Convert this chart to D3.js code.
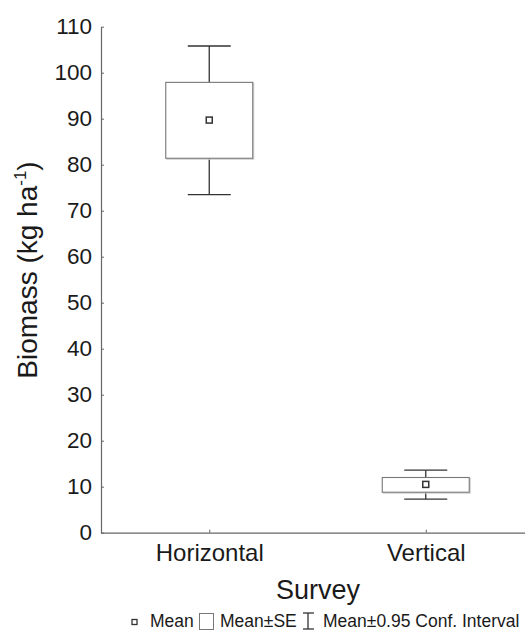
<!DOCTYPE html>
<html><head><meta charset="utf-8">
<script src="https://cdn.jsdelivr.net/npm/d3@7"></script>
<style>body{margin:0;background:#fff}svg{display:block;font-family:"Liberation Sans",Arial,sans-serif}</style>
</head><body>
<svg id="c" width="525" height="632"></svg>
<script>
const categories = ["Horizontal", "Vertical"];
const means = [89.7, 10.5];
const seLow = [81.4, 8.8];
const seHigh = [97.9, 12.0];
const ciLow = [73.5, 7.3];
const ciHigh = [105.8, 13.6];
const yTicks = [0,10,20,30,40,50,60,70,80,90,100,110];

const svg = d3.select("#c");
const y = d3.scaleLinear().domain([0,110]).range([532.7,26.7]);
const x = d3.scalePoint().domain(categories).range([101,534]).padding(0.5);
const txt = "#1a1a1a";

// y axis
const ya = svg.append("g").attr("transform","translate(101,0)")
  .call(d3.axisLeft(y).tickValues(yTicks).tickSizeInner(-3).tickSizeOuter(0).tickPadding(9));
ya.select(".domain").attr("stroke","#666").attr("stroke-width",1.2);
ya.selectAll(".tick line").attr("stroke","#666");
ya.selectAll(".tick text").attr("font-size",22.5).attr("fill",txt).attr("font-family","Liberation Sans, Arial, sans-serif");

// x axis
const xa = svg.append("g").attr("transform","translate(0,532.7)")
  .call(d3.axisBottom(x).tickSizeInner(-3).tickSizeOuter(0).tickPadding(11));
xa.select(".domain").attr("stroke","#666").attr("stroke-width",1.2);
xa.selectAll(".tick line").attr("stroke","#666");
xa.selectAll(".tick text").attr("font-size",24).attr("fill",txt).attr("font-family","Liberation Sans, Arial, sans-serif");

// axis titles
svg.append("text").attr("x",318).attr("y",599).attr("text-anchor","middle")
  .attr("font-size",27).attr("fill",txt).text("Survey");
const yl = svg.append("text").attr("transform","translate(37,270) rotate(-90)")
  .attr("text-anchor","middle").attr("font-size",28).attr("fill",txt);
yl.append("tspan").text("Biomass (kg ha");
yl.append("tspan").attr("dy",-11).attr("font-size",17).text("-1");
yl.append("tspan").attr("dy",11).text(")");

// boxes
const boxW = 87, capW = 43;
const g = svg.append("g");
categories.forEach((c,i)=>{
  const cx = x(c);
  g.append("line").attr("x1",cx).attr("x2",cx).attr("y1",y(ciHigh[i])).attr("y2",y(seHigh[i])).attr("stroke","#333").attr("stroke-width",1.3);
  g.append("line").attr("x1",cx).attr("x2",cx).attr("y1",y(seLow[i])).attr("y2",y(ciLow[i])).attr("stroke","#333").attr("stroke-width",1.3);
  g.append("line").attr("x1",cx-capW/2).attr("x2",cx+capW/2).attr("y1",y(ciHigh[i])).attr("y2",y(ciHigh[i])).attr("stroke","#333").attr("stroke-width",1.3);
  g.append("line").attr("x1",cx-capW/2).attr("x2",cx+capW/2).attr("y1",y(ciLow[i])).attr("y2",y(ciLow[i])).attr("stroke","#333").attr("stroke-width",1.3);
  g.append("rect").attr("x",cx-boxW/2+1).attr("y",y(seHigh[i])+1).attr("width",boxW).attr("height",y(seLow[i])-y(seHigh[i]))
    .attr("fill","none").attr("stroke","#ccc").attr("stroke-width",1);
  g.append("rect").attr("x",cx-boxW/2).attr("y",y(seHigh[i])).attr("width",boxW).attr("height",y(seLow[i])-y(seHigh[i]))
    .attr("fill","#fff").attr("stroke","#777").attr("stroke-width",1.1);
  g.append("rect").attr("x",cx-3).attr("y",y(means[i])-3).attr("width",6).attr("height",6)
    .attr("fill","#fff").attr("stroke","#333").attr("stroke-width",1.5);
});

// legend
const lg = svg.append("g").attr("font-size",17.5).attr("fill",txt);
lg.append("rect").attr("x",132).attr("y",619.5).attr("width",5).attr("height",5).attr("fill","#fff").attr("stroke","#333").attr("stroke-width",1.3);
lg.append("text").attr("x",150).attr("y",627).text("Mean");
lg.append("rect").attr("x",199.5).attr("y",613.5).attr("width",14).attr("height",16).attr("fill","#fff").attr("stroke","#777").attr("stroke-width",1);
lg.append("text").attr("x",220).attr("y",627).text("Mean±SE");
lg.append("line").attr("x1",308).attr("x2",308).attr("y1",613).attr("y2",629).attr("stroke","#333").attr("stroke-width",1.3);
lg.append("line").attr("x1",303).attr("x2",314).attr("y1",613).attr("y2",613).attr("stroke","#333").attr("stroke-width",1.3);
lg.append("line").attr("x1",303).attr("x2",314).attr("y1",629).attr("y2",629).attr("stroke","#333").attr("stroke-width",1.3);
lg.append("text").attr("x",323).attr("y",627).text("Mean±0.95 Conf. Interval");
</script>
</body></html>
